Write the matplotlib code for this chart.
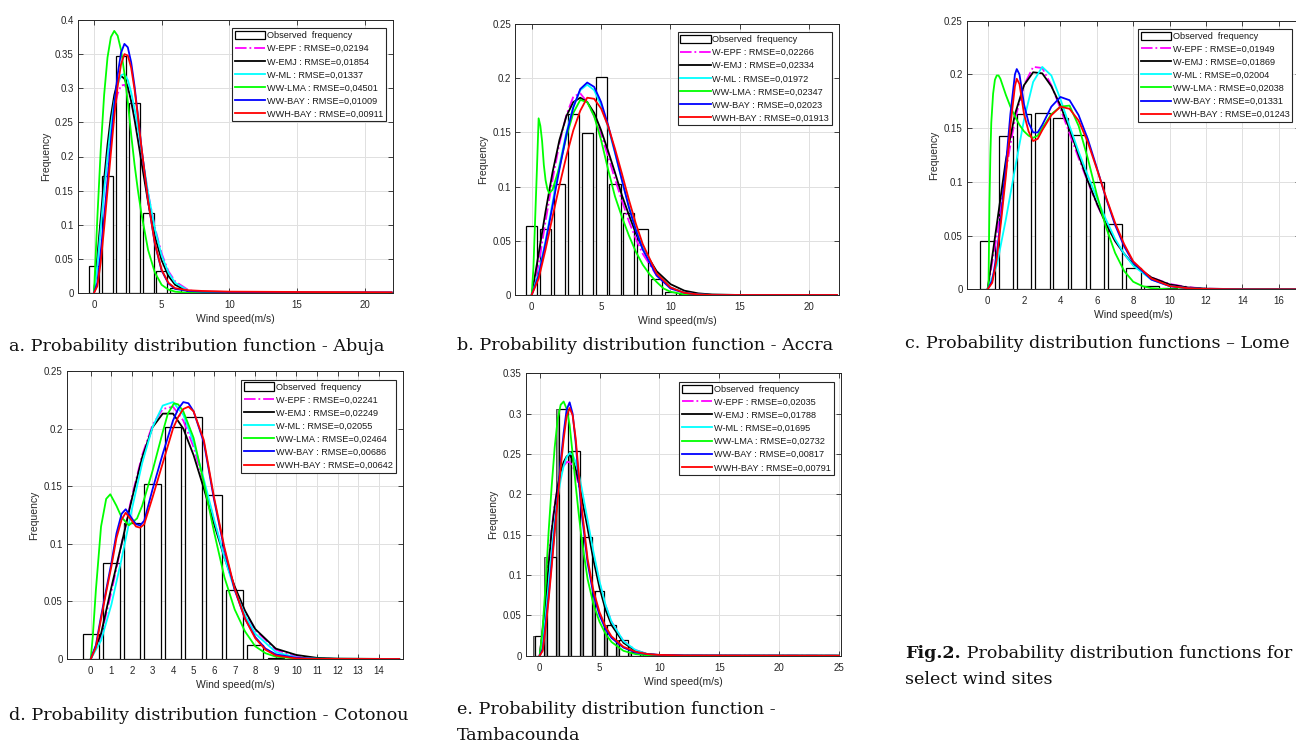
import matplotlib
matplotlib.use("Agg")
import matplotlib.pyplot as plt
from matplotlib.patches import Patch

plt.rcParams['font.family'] = ['Liberation Sans', 'DejaVu Sans']

# ---------------- common ----------------
series_names = ["W-EPF", "W-EMJ", "W-ML", "WW-LMA", "WW-BAY", "WWH-BAY"]
series_colors = ['#ff00ff', '#000000', '#00ffff', '#00ff00', '#0000ff', '#ff0000']
series_styles = ['-.', '-', '-', '-', '-', '-']

# ---------------- a. Abuja ----------------
abuja_bins = [0, 1, 2, 3, 4, 5, 6, 7]
abuja_obs = [0.040, 0.172, 0.347, 0.279, 0.117, 0.032, 0.008, 0.002]
abuja_x = [0, 0.25, 0.5, 0.75, 1, 1.25, 1.5, 1.75, 2, 2.25, 2.5, 2.75, 3, 3.25, 3.5,
           4, 4.5, 5, 5.5, 6, 7, 8, 10, 15, 22]
abuja_epf = [0, 0.045, 0.1, 0.152, 0.198, 0.238, 0.27, 0.292, 0.304, 0.305, 0.297, 0.281,
             0.259, 0.233, 0.204, 0.146, 0.096, 0.058, 0.032, 0.017, 0.004, 0.001, 0, 0, 0]
abuja_emj = [0, 0.053, 0.11, 0.167, 0.217, 0.259, 0.29, 0.31, 0.318, 0.314, 0.302, 0.281,
             0.254, 0.224, 0.193, 0.133, 0.083, 0.048, 0.025, 0.012, 0.002, 0.0003, 0, 0, 0]
abuja_ml = [0, 0.04, 0.095, 0.15, 0.2, 0.245, 0.28, 0.305, 0.319, 0.321, 0.312, 0.294,
            0.27, 0.241, 0.21, 0.147, 0.094, 0.055, 0.03, 0.015, 0.003, 0.0005, 0, 0, 0]
abuja_lma = [0, 0.11, 0.21, 0.29, 0.345, 0.375, 0.384, 0.377, 0.356, 0.322, 0.28, 0.232,
             0.188, 0.15, 0.117, 0.063, 0.03, 0.012, 0.005, 0.002, 0, 0, 0, 0, 0]
abuja_bay = [0, 0.015, 0.06, 0.11, 0.165, 0.222, 0.275, 0.32, 0.352, 0.365, 0.36, 0.338,
             0.303, 0.26, 0.215, 0.135, 0.072, 0.033, 0.014, 0.006, 0.003, 0.002, 0.0015, 0.001, 0.001]
abuja_wwh = [0, 0.01, 0.045, 0.095, 0.15, 0.205, 0.258, 0.303, 0.335, 0.35, 0.348, 0.33,
             0.298, 0.258, 0.215, 0.135, 0.073, 0.034, 0.015, 0.007, 0.004, 0.003, 0.002, 0.0015, 0.001]
abuja_rmse = ["0,02194", "0,01854", "0,01337", "0,04501", "0,01009", "0,00911"]

# ---------------- b. Accra ----------------
accra_bins = [0, 1, 2, 3, 4, 5, 6, 7, 8, 9, 10, 11]
accra_obs = [0.064, 0.061, 0.102, 0.167, 0.149, 0.201, 0.102, 0.076, 0.061, 0.015, 0.003, 0.001]
accra_x = [0, 0.5, 1, 1.5, 2, 2.5, 3, 3.5, 4, 4.5, 5, 5.5, 6, 6.5, 7, 7.5, 8,
           9, 10, 11, 12, 13, 15, 22]
accra_epf = [0, 0.028, 0.068, 0.106, 0.14, 0.166, 0.183, 0.186, 0.178, 0.165, 0.148, 0.128,
             0.107, 0.087, 0.068, 0.052, 0.038, 0.018, 0.007, 0.002, 0.0006, 0, 0, 0]
accra_emj = [0, 0.038, 0.077, 0.113, 0.143, 0.165, 0.178, 0.182, 0.178, 0.168, 0.152, 0.133,
             0.113, 0.092, 0.074, 0.057, 0.043, 0.022, 0.01, 0.004, 0.0015, 0.0005, 0, 0]
accra_ml = [0, 0.02, 0.05, 0.085, 0.12, 0.15, 0.174, 0.189, 0.194, 0.189, 0.175, 0.155,
            0.131, 0.106, 0.082, 0.061, 0.043, 0.019, 0.007, 0.002, 0.0005, 0, 0, 0]
accra_bay = [0, 0.018, 0.048, 0.082, 0.116, 0.148, 0.173, 0.19, 0.196, 0.192, 0.178, 0.157,
             0.132, 0.106, 0.081, 0.06, 0.042, 0.018, 0.006, 0.002, 0.0005, 0, 0, 0]
accra_wwh = [0, 0.015, 0.042, 0.072, 0.101, 0.128, 0.152, 0.17, 0.182, 0.181, 0.172, 0.156,
             0.135, 0.112, 0.088, 0.066, 0.047, 0.02, 0.007, 0.002, 0.0005, 0, 0, 0]
accra_lma_x = [0, 0.125, 0.25, 0.375, 0.5, 0.625, 0.75, 0.875, 1, 1.125, 1.25, 1.5, 2, 2.5,
               3, 3.5, 4, 4.5, 5, 5.5, 6, 6.5, 7, 7.5, 8, 8.5, 9, 9.5, 10, 11, 13, 22]
accra_lma = [0, 0.025, 0.07, 0.115, 0.163, 0.156, 0.142, 0.12, 0.106, 0.098, 0.094, 0.097,
             0.118, 0.146, 0.168, 0.18, 0.178, 0.165, 0.143, 0.116, 0.091, 0.072, 0.055, 0.04,
             0.028, 0.019, 0.012, 0.006, 0.003, 0.0005, 0, 0]
accra_rmse = ["0,02266", "0,02334", "0,01972", "0,02347", "0,02023", "0,01913"]

# ---------------- c. Lome ----------------
lome_bins = [0, 1, 2, 3, 4, 5, 6, 7, 8, 9, 10]
lome_obs = [0.045, 0.143, 0.163, 0.164, 0.159, 0.144, 0.100, 0.061, 0.020, 0.003, 0.001]
lome_x = [0, 0.5, 1, 1.5, 2, 2.5, 3, 3.5, 4, 4.5, 5, 5.5, 6, 6.5, 7, 7.5, 8,
          9, 10, 11, 12, 14, 18]
lome_epf = [0, 0.05, 0.11, 0.158, 0.19, 0.207, 0.206, 0.19, 0.168, 0.145, 0.122, 0.1,
            0.079, 0.061, 0.045, 0.033, 0.023, 0.011, 0.005, 0.002, 0.0006, 0, 0]
lome_emj = [0, 0.06, 0.12, 0.163, 0.19, 0.202, 0.201, 0.189, 0.171, 0.149, 0.125, 0.101,
            0.08, 0.061, 0.045, 0.033, 0.023, 0.011, 0.0045, 0.0017, 0.0006, 0.0001, 0]
lome_ml = [0, 0.022, 0.065, 0.112, 0.158, 0.193, 0.207, 0.199, 0.177, 0.152, 0.128, 0.106,
           0.085, 0.065, 0.047, 0.033, 0.022, 0.009, 0.003, 0.001, 0.0003, 0, 0]
lome_bay_x = [0, 0.25, 0.5, 0.75, 1, 1.25, 1.5, 1.6, 1.75, 2, 2.25, 2.5, 2.75, 3, 3.5, 4,
              4.5, 5, 5.5, 6, 6.5, 7, 7.5, 8, 9, 10, 11, 12, 14, 18]
lome_bay = [0, 0.008, 0.032, 0.07, 0.115, 0.163, 0.2, 0.205, 0.2, 0.172, 0.155, 0.146, 0.146,
            0.153, 0.17, 0.179, 0.176, 0.162, 0.14, 0.113, 0.085, 0.06, 0.04, 0.025, 0.009,
            0.003, 0.001, 0.0003, 0, 0]
lome_wwh = [0, 0.006, 0.028, 0.065, 0.105, 0.152, 0.189, 0.196, 0.191, 0.163, 0.147, 0.138,
            0.14, 0.148, 0.162, 0.17, 0.168, 0.157, 0.137, 0.112, 0.086, 0.062, 0.042, 0.026,
            0.01, 0.003, 0.001, 0.0003, 0, 0]
lome_lma_x = [0, 0.05, 0.1, 0.15, 0.2, 0.3, 0.4, 0.5, 0.6, 0.7, 0.8, 1, 1.25, 1.5, 1.75, 2,
              2.25, 2.5, 2.75, 3, 3.5, 4, 4.5, 5, 5.5, 6, 6.5, 7, 7.5, 8, 8.5, 9, 10, 18]
lome_lma = [0, 0.005, 0.08, 0.125, 0.155, 0.182, 0.195, 0.199, 0.199, 0.196, 0.191, 0.181,
            0.17, 0.161, 0.153, 0.147, 0.143, 0.141, 0.143, 0.15, 0.163, 0.17, 0.171, 0.152,
            0.122, 0.088, 0.058, 0.034, 0.017, 0.007, 0.003, 0.001, 0, 0]
lome_rmse = ["0,01949", "0,01869", "0,02004", "0,02038", "0,01331", "0,01243"]

# ---------------- d. Cotonou ----------------
coto_bins = [0, 1, 2, 3, 4, 5, 6, 7, 8, 9]
coto_obs = [0.022, 0.083, 0.118, 0.152, 0.201, 0.210, 0.142, 0.060, 0.012, 0.001]
coto_x = [0, 0.5, 1, 1.5, 2, 2.5, 3, 3.5, 4, 4.5, 5, 5.5, 6, 6.5, 7, 7.5, 8,
          9, 10, 11, 12, 15]
coto_epf = [0, 0.02, 0.058, 0.1, 0.141, 0.177, 0.203, 0.217, 0.219, 0.207, 0.184, 0.153,
            0.12, 0.089, 0.062, 0.041, 0.025, 0.008, 0.002, 0.0005, 0, 0]
coto_emj = [0, 0.022, 0.062, 0.1, 0.139, 0.175, 0.201, 0.213, 0.213, 0.2, 0.177, 0.148,
            0.117, 0.088, 0.063, 0.042, 0.026, 0.009, 0.0035, 0.001, 0.0003, 0]
coto_ml = [0, 0.016, 0.047, 0.087, 0.13, 0.17, 0.201, 0.22, 0.223, 0.212, 0.188, 0.156,
           0.121, 0.088, 0.06, 0.038, 0.022, 0.006, 0.0013, 0.0002, 0, 0]
coto_bay_x = [0, 0.25, 0.5, 0.75, 1, 1.25, 1.5, 1.7, 2, 2.2, 2.4, 2.6, 3, 3.5, 4, 4.25, 4.5,
              4.75, 5, 5.5, 6, 6.5, 7, 7.5, 8, 8.5, 9, 10, 11, 15]
coto_bay = [0, 0.012, 0.037, 0.06, 0.083, 0.109, 0.126, 0.13, 0.122, 0.117, 0.116, 0.12,
            0.147, 0.178, 0.207, 0.217, 0.223, 0.222, 0.215, 0.188, 0.138, 0.095, 0.06, 0.035,
            0.019, 0.009, 0.004, 0.001, 0.0002, 0]
coto_wwh = [0, 0.01, 0.035, 0.058, 0.08, 0.105, 0.121, 0.127, 0.12, 0.115, 0.114, 0.117,
            0.14, 0.17, 0.2, 0.21, 0.217, 0.219, 0.215, 0.19, 0.14, 0.097, 0.061, 0.035,
            0.018, 0.008, 0.003, 0.0005, 0.0001, 0]
coto_lma_x = [0, 0.1, 0.25, 0.5, 0.75, 0.95, 1.25, 1.5, 1.85, 2.25, 2.5, 3, 3.5, 3.75, 4.05,
              4.25, 4.5, 5, 5.5, 6, 6.5, 7, 7.5, 8, 8.5, 9, 10, 15]
coto_lma = [0, 0.02, 0.06, 0.115, 0.139, 0.143, 0.133, 0.123, 0.116, 0.122, 0.133, 0.163,
            0.197, 0.213, 0.222, 0.221, 0.215, 0.192, 0.153, 0.11, 0.071, 0.043, 0.024, 0.011,
            0.005, 0.002, 0.0003, 0]
coto_rmse = ["0,02241", "0,02249", "0,02055", "0,02464", "0,00686", "0,00642"]

# ---------------- e. Tambacounda ----------------
tamba_bins = [0, 1, 2, 3, 4, 5, 6, 7, 8, 9]
tamba_obs = [0.025, 0.122, 0.306, 0.254, 0.147, 0.080, 0.038, 0.019, 0.005, 0.002]
tamba_x = [0, 0.25, 0.5, 0.75, 1, 1.25, 1.5, 1.75, 2, 2.25, 2.5, 2.75, 3, 3.25, 3.5,
           4, 4.5, 5, 5.5, 6, 7, 8, 9, 10, 12, 25]
tamba_epf = [0, 0.035, 0.075, 0.118, 0.158, 0.187, 0.208, 0.224, 0.235, 0.24, 0.24, 0.235,
             0.226, 0.212, 0.197, 0.16, 0.123, 0.09, 0.062, 0.042, 0.018, 0.007, 0.002, 0.0007, 0.0001, 0]
tamba_emj = [0, 0.032, 0.07, 0.113, 0.155, 0.185, 0.21, 0.228, 0.24, 0.247, 0.249, 0.243,
             0.232, 0.216, 0.197, 0.158, 0.118, 0.084, 0.057, 0.038, 0.016, 0.006, 0.002, 0.0005, 0.0001, 0]
tamba_ml = [0, 0.02, 0.05, 0.09, 0.13, 0.165, 0.195, 0.218, 0.235, 0.246, 0.251, 0.249,
            0.24, 0.226, 0.208, 0.168, 0.128, 0.092, 0.063, 0.042, 0.018, 0.007, 0.002, 0.0007, 0.0001, 0]
tamba_lma = [0, 0.035, 0.09, 0.155, 0.21, 0.258, 0.293, 0.311, 0.315, 0.306, 0.286, 0.25,
             0.212, 0.177, 0.145, 0.095, 0.063, 0.042, 0.027, 0.017, 0.006, 0.002, 0.0005, 0, 0, 0]
tamba_bay = [0, 0.008, 0.04, 0.075, 0.115, 0.157, 0.198, 0.24, 0.276, 0.305, 0.314, 0.3,
             0.265, 0.22, 0.178, 0.115, 0.075, 0.05, 0.033, 0.022, 0.01, 0.004, 0.002, 0.001, 0.0003, 0]
tamba_wwh = [0, 0.006, 0.035, 0.07, 0.11, 0.152, 0.193, 0.233, 0.268, 0.297, 0.307, 0.298,
             0.27, 0.228, 0.185, 0.12, 0.08, 0.054, 0.036, 0.024, 0.011, 0.005, 0.002, 0.001, 0.0003, 0]
tamba_rmse = ["0,02035", "0,01788", "0,01695", "0,02732", "0,00817", "0,00791"]

# ---------------- captions ----------------
caption_a = "a. Probability distribution function - Abuja"
caption_b = "b. Probability distribution function - Accra"
caption_c = "c. Probability distribution functions \u2013 Lome"
caption_d = "d. Probability distribution function - Cotonou"
caption_e1 = "e. Probability distribution function -"
caption_e2 = "Tambacounda"
fig_bold = "Fig.2."
fig_rest1 = " Probability distribution functions for"
fig_rest2 = "select wind sites"

W, H = 1296, 743
fig = plt.figure(figsize=(W / 100, H / 100), dpi=100)
fig.patch.set_facecolor('white')

TXT = '#262626'
SERIF = ['DejaVu Serif']
CAP = 12.6


def px_rect(x0, y0, x1, y1):
    return [x0 / W, 1 - y1 / H, (x1 - x0) / W, (y1 - y0) / H]


def panel(rect, xlim, ylim, xticks, yticks, bins, obs, curves, rmse, gray_gaps=False):
    ax = fig.add_axes(rect)
    if gray_gaps:
        # darker strips visible between the white bars (as in the Tambacounda panel)
        ax.bar([b - 0.1 for b in bins], obs, width=1.0, color='#9a9a9a',
               edgecolor='#404040', linewidth=0.6, zorder=1.9)
    ax.bar(bins, obs, width=0.8, color='white', edgecolor='black', linewidth=0.9, zorder=2)
    for (xs, ys), col, ls in zip(curves, series_colors, series_styles):
        ax.plot(xs, ys, color=col, linestyle=ls, linewidth=1.3, zorder=3)
    ax.set_xlim(xlim)
    ax.set_ylim(ylim)
    ax.set_xticks(xticks)
    ax.set_xticklabels([f"{v:g}" for v in xticks])
    ax.set_yticks(yticks)
    ax.set_yticklabels([f"{v:g}" for v in yticks])
    ax.tick_params(direction='in', top=True, right=True, length=3.5, width=0.6,
                   labelsize=7, colors=TXT)
    ax.tick_params(axis='x', pad=5)
    ax.tick_params(axis='y', pad=3)
    ax.grid(True, color='#e0e0e0', linewidth=0.7)
    ax.set_axisbelow(True)
    for s in ax.spines.values():
        s.set_color(TXT)
        s.set_linewidth(0.7)
    ax.set_xlabel('Wind speed(m/s)', fontsize=7.5, color=TXT, labelpad=3)
    ax.set_ylabel('Frequency', fontsize=7.5, color=TXT, labelpad=3)
    handles = [Patch(facecolor='white', edgecolor='black', linewidth=0.9)]
    labels = ["Observed  frequency"]
    for ln, name, r in zip(ax.get_lines(), series_names, rmse):
        handles.append(ln)
        labels.append(f"{name} : RMSE={r}")
    leg = ax.legend(handles, labels, loc='upper right', bbox_to_anchor=(0.977, 0.97),
                    fontsize=6.6, frameon=True, fancybox=False, edgecolor=TXT,
                    framealpha=1, borderpad=0.3, labelspacing=0.42, handlelength=3.3,
                    handleheight=1.0, handletextpad=0.2, borderaxespad=0)
    leg.get_frame().set_linewidth(0.8)
    for t in leg.get_texts():
        t.set_color('#1a1a1a')
    return ax


ticks_04 = [0, 0.05, 0.1, 0.15, 0.2, 0.25, 0.3, 0.35, 0.4]
ticks_025 = [0, 0.05, 0.1, 0.15, 0.2, 0.25]
ticks_035 = [0, 0.05, 0.1, 0.15, 0.2, 0.25, 0.3, 0.35]

panel(px_rect(78, 20, 393, 293), (-1.18, 22.1), (0, 0.4), [0, 5, 10, 15, 20], ticks_04,
      abuja_bins, abuja_obs,
      [(abuja_x, abuja_epf), (abuja_x, abuja_emj), (abuja_x, abuja_ml),
       (abuja_x, abuja_lma), (abuja_x, abuja_bay), (abuja_x, abuja_wwh)], abuja_rmse)

panel(px_rect(515.3, 24, 839.3, 295), (-1.18, 22.16), (0, 0.25), [0, 5, 10, 15, 20], ticks_025,
      accra_bins, accra_obs,
      [(accra_x, accra_epf), (accra_x, accra_emj), (accra_x, accra_ml),
       (accra_lma_x, accra_lma), (accra_x, accra_bay), (accra_x, accra_wwh)], accra_rmse)

panel(px_rect(966.7, 20.7, 1300, 289.3), (-1.15, 17.16), (0, 0.25), list(range(0, 17, 2)), ticks_025,
      lome_bins, lome_obs,
      [(lome_x, lome_epf), (lome_x, lome_emj), (lome_x, lome_ml),
       (lome_lma_x, lome_lma), (lome_bay_x, lome_bay), (lome_bay_x, lome_wwh)], lome_rmse)

panel(px_rect(66.7, 371, 403.3, 659), (-1.17, 15.2), (0, 0.25), list(range(0, 15)), ticks_025,
      coto_bins, coto_obs,
      [(coto_x, coto_epf), (coto_x, coto_emj), (coto_x, coto_ml),
       (coto_lma_x, coto_lma), (coto_bay_x, coto_bay), (coto_bay_x, coto_wwh)], coto_rmse)

panel(px_rect(525.7, 373.3, 841, 655.7), (-1.17, 25.17), (0, 0.35), [0, 5, 10, 15, 20, 25], ticks_035,
      tamba_bins, tamba_obs,
      [(tamba_x, tamba_epf), (tamba_x, tamba_emj), (tamba_x, tamba_ml),
       (tamba_x, tamba_lma), (tamba_x, tamba_bay), (tamba_x, tamba_wwh)], tamba_rmse,
      gray_gaps=True)


def cap(x, y, s, **kw):
    return fig.text(x / W, 1 - y / H, s, fontsize=CAP, family=SERIF, color='#111111',
                    ha='left', va='center', **kw)


cap(9, 347, caption_a)
cap(457, 345, caption_b)
cap(905, 343, caption_c)
cap(9, 715, caption_d)
cap(457, 710, caption_e1)
cap(457, 735, caption_e2)
tb = cap(905, 653, fig_bold, fontweight='bold')
fig.add_artist(plt.Annotation(fig_rest1, xy=(1, 0.5), xycoords=tb, va='center',
                              ha='left', fontsize=CAP, family=SERIF, color='#111111'))
cap(905, 680, fig_rest2)

fig.savefig('out.png', dpi=100, facecolor='white')
